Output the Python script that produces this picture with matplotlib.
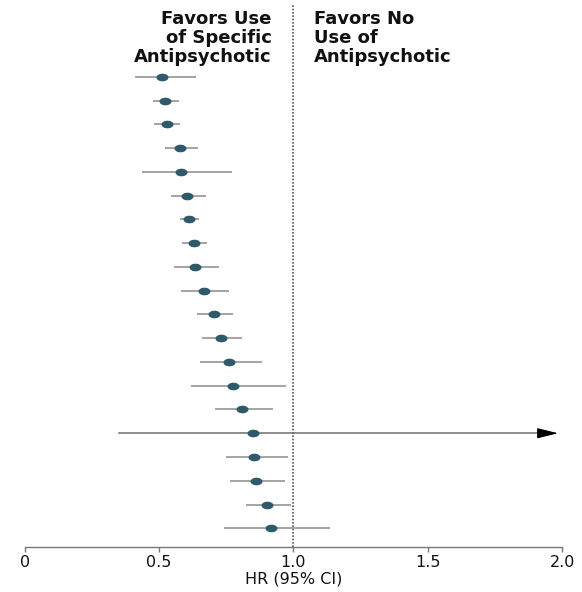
import matplotlib
matplotlib.use("Agg")
import matplotlib.pyplot as plt
from matplotlib.path import Path
import numpy as np

# hazard ratios and 95% CI, one row per antipsychotic (top to bottom)
hr = [0.512, 0.524, 0.529, 0.578, 0.581, 0.605, 0.613, 0.630, 0.634, 0.666,
      0.706, 0.731, 0.759, 0.777, 0.809, 0.851, 0.855, 0.861, 0.902, 0.918]
ci_low = [0.412, 0.479, 0.483, 0.521, 0.437, 0.545, 0.579, 0.584, 0.555, 0.583,
          0.640, 0.660, 0.651, 0.620, 0.707, 0.350, 0.748, 0.764, 0.822, 0.741]
ci_high = [0.638, 0.573, 0.579, 0.645, 0.772, 0.674, 0.650, 0.679, 0.724, 0.760,
           0.777, 0.810, 0.884, 0.972, 0.925, 2.400, 0.980, 0.970, 0.990, 1.137]

x_ticks = [0, 0.5, 1.0, 1.5, 2.0]
x_tick_labels = ["0", "0.5", "1.0", "1.5", "2.0"]
left_header = "Favors Use\nof Specific\nAntipsychotic"
right_header = "Favors No\nUse of\nAntipsychotic"
x_label = "HR (95% CI)"

dot_color = "#2e5a69"
ci_color = "#a3a3a3"

# wide ellipse marker (the original is horizontally stretched)
t = np.linspace(0, 2 * np.pi, 60)
ellipse = Path(np.column_stack([1.7 * np.cos(t), np.sin(t)]), closed=True)

fig = plt.figure(figsize=(5.82, 5.92), dpi=100)
ax = fig.add_axes([0.0423, 0.0755, 0.9235, 0.916])

x_max = x_ticks[-1]
rows = np.arange(len(hr))

for i, (p, lo, hi) in enumerate(zip(hr, ci_low, ci_high)):
    if hi > x_max:
        # CI runs off the scale: grey shaft with a black arrow head
        tip = x_max - 0.015
        ax.plot([lo, tip - 0.04], [i, i], color="#6e6e6e", lw=1.1, zorder=2)
        ax.annotate("", xy=(tip, i), xytext=(tip - 0.06, i),
                    arrowprops=dict(arrowstyle="-|>,head_length=1.3,head_width=0.32",
                                    lw=0.8, shrinkA=0, shrinkB=0,
                                    mutation_scale=10, fc="black", ec="black"))
    else:
        ax.plot([lo, hi], [i, i], color=ci_color, lw=1.4, zorder=2,
                solid_capstyle="butt")

ax.plot(hr, rows, linestyle="none", marker=ellipse, markersize=7.6,
        color=dot_color, zorder=3)

ax.axvline(1.0, color="#555555", lw=1.2, linestyle=(0, (1, 1)), zorder=1)

ax.set_xlim(0, x_max)
ax.set_ylim(19.8, -3.02)

ax.text(0.92, -2.8, left_header, ha="right", va="top", fontsize=13,
        fontweight="bold", linespacing=1.08, color="#111111")
ax.text(1.075, -2.8, right_header, ha="left", va="top", fontsize=13,
        fontweight="bold", linespacing=1.08, color="#111111")

for side in ["left", "right", "top"]:
    ax.spines[side].set_visible(False)
ax.spines["bottom"].set_color("#777777")
ax.spines["bottom"].set_linewidth(1.0)
ax.set_yticks([])
ax.set_xticks(x_ticks)
ax.set_xticklabels(x_tick_labels, fontsize=11.5)
ax.tick_params(axis="x", direction="out", length=3.5, width=1.0,
               color="#777777", pad=2, labelcolor="#111111")
ax.set_xlabel(x_label, fontsize=11.5, labelpad=1, color="#111111")

fig.savefig("out.png", dpi=100)
